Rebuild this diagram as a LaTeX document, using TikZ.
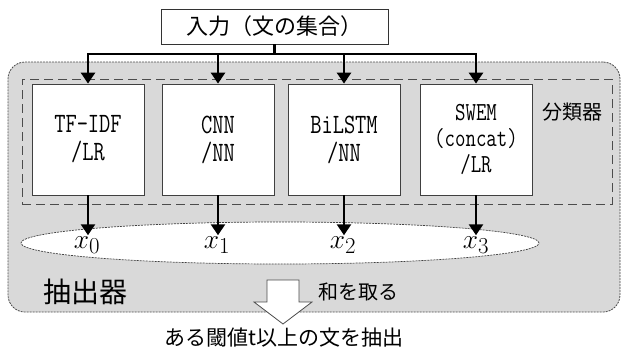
\documentclass[tikz,border=0pt]{standalone}
\usepackage{fontspec}
\setmainfont{Noto Sans CJK JP}
\newfontfamily\monof[FakeStretch=0.78]{Latin Modern Mono}
\usetikzlibrary{arrows.meta,shapes.geometric}
\begin{document}
\begin{tikzpicture}[x=1pt,y=-1pt,
  arr/.style={line width=2.6pt,draw=black,-{Triangle[length=11pt,width=14pt]}},
  busline/.style={line width=2.6pt,draw=black},
  clsbox/.style={draw=black!75,fill=white,line width=0.8pt,minimum width=112pt,minimum height=111pt,inner sep=0pt,align=center,font=\monof\fontsize{28}{28}\selectfont},
  outerbox/.style={draw=black!70,fill=black!15,line width=0.8pt,dash pattern=on 2pt off 1pt,rounded corners=17pt,minimum width=612pt,minimum height=250pt,inner sep=0pt},
  grpbox/.style={draw=black!70,line width=1pt,dash pattern=on 9pt off 5pt,minimum width=590pt,minimum height=125pt,inner sep=0pt},
  xlab/.style={inner sep=1pt,font=\fontsize{24.88}{25}\selectfont},
  jp/.style={inner sep=0pt,font=\fontsize{20}{20}\selectfont}
]
\useasboundingbox (0,0) rectangle (622,351);
\node[outerbox] (outer) at (314,187) {};
\node[grpbox] (grp) at (317,141.5) {};
\node[draw=black!80,fill=white,line width=0.8pt,minimum width=227pt,minimum height=35pt,inner sep=0pt,font=\fontsize{22}{22}\selectfont] (in) at (274.5,26.5) {入力（文の集合）};
\node[clsbox] (b0) at (88,139.5) {TF-IDF\\/LR};
\node[clsbox] (b1) at (218,139.5) {CNN\\/NN};
\node[clsbox] (b2) at (344,139.5) {BiLSTM\\/NN};
\node[clsbox,font=\monof\fontsize{26}{26}\selectfont] (b3) at (476,139.5) {SWEM\\(concat)\\/LR};
\node[jp] (cls) at (572,112) {分類器};
\coordinate (bus) at (274.5,54);
\draw[busline] (in.south) -- (bus);
\draw[arr] (bus) -| (b0.north);
\draw[arr] (bus) -| (b1.north);
\draw[arr] (bus) -| (b2.north);
\draw[arr] (bus) -| (b3.north);
\node[ellipse,draw=black!75,fill=white,line width=0.7pt,dash pattern=on 2pt off 1pt,minimum width=518pt,minimum height=42pt,inner sep=0pt] (e) at (280,243) {};
\node[xlab] (x0) at (87,245) {\scalebox{1.1}{$x_0$}};
\node[xlab] (x1) at (217,245) {\scalebox{1.1}{$x_1$}};
\node[xlab] (x2) at (343,245) {\scalebox{1.1}{$x_2$}};
\node[xlab] (x3) at (476,245) {\scalebox{1.1}{$x_3$}};
\draw[arr] (b0.south) -- (b0.south |- x0.north);
\draw[arr] (b1.south) -- (b1.south |- x1.north);
\draw[arr] (b2.south) -- (b2.south |- x2.north);
\draw[arr] (b3.south) -- (b3.south |- x3.north);
\node[inner sep=0pt,font=\fontsize{28}{28}\selectfont] (ext) at (85,292) {抽出器};
\draw[draw=black!70,fill=white,line width=0.8pt] (267,280) -- (299,280) -- (299,302) -- (312,302) -- (283,324) -- (254,302) -- (267,302) -- cycle;
\node[jp,anchor=west] (sum) at (318,292) {和を取る};
\node[inner sep=0pt,font=\fontsize{21}{21}\selectfont] (out) at (284,338) {ある閾値t以上の文を抽出};
\end{tikzpicture}
\end{document}
